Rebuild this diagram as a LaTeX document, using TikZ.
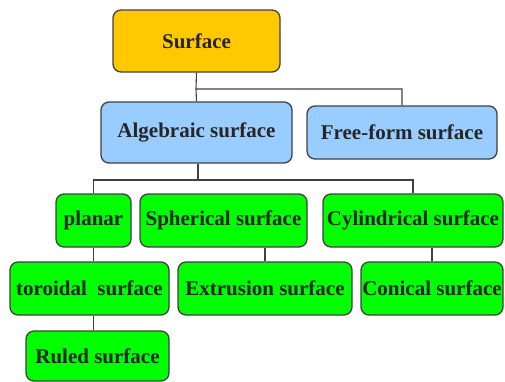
\documentclass[tikz,border=0pt]{standalone}
\usepackage{fontspec}
\setmainfont{Liberation Serif}
\definecolor{topfill}{HTML}{FFC800}
\definecolor{bluefill}{HTML}{99CCFF}
\definecolor{greenfill}{HTML}{00FF00}
\definecolor{edgecol}{HTML}{404040}
\tikzset{
  box/.style={draw=edgecol, line width=1.3pt, rounded corners=8pt, inner sep=0pt,
    font=\rmfamily\bfseries\fontsize{21}{24}\selectfont, text=black!85},
  topbox/.style={box, fill=topfill},
  bluebox/.style={box, fill=bluefill},
  greenbox/.style={box, fill=greenfill},
  conn/.style={draw=edgecol, line width=1.1pt}
}
\newcommand{\boxat}[7]{% style, name, x1, y1, x2, y2, text
  \node[#1, minimum width={(#5-#3)*1pt}, minimum height={(#6-#4)*1pt}] (#2) at ({(#3+#5)/2},{(#4+#6)/2}) {#7};}
\begin{document}
\begin{tikzpicture}[x=1pt,y=-1pt]
\useasboundingbox (0,0) rectangle (505,381);
\boxat{topbox}{surf}{113}{10}{280}{72}{Surface}
\boxat{bluebox}{alg}{101}{102}{292}{163}{Algebraic surface}
\boxat{bluebox}{free}{307}{106}{497}{159}{Free-form surface}
\boxat{greenbox}{planar}{56}{194}{131}{247}{planar}
\boxat{greenbox}{sph}{140}{194}{307}{247}{Spherical surface}
\boxat{greenbox}{cyl}{323}{194}{503}{247}{Cylindrical surface}
\boxat{greenbox}{tor}{10}{262}{169}{315}{toroidal\ \ surface}
\boxat{greenbox}{ext}{178}{262}{352}{315}{Extrusion surface}
\boxat{greenbox}{con}{361}{262}{503}{315}{Conical surface}
\boxat{greenbox}{ruled}{26}{331}{169}{381}{Ruled surface}
\coordinate (b1) at (196,89);
\coordinate (b2) at (198,180);
\draw[conn] (surf.south) -- (b1) -| (free.north);
\draw[conn] (b1) -- (alg.north);
\draw[conn] (alg.south -| b2) -- (b2);
\draw[conn] (planar.north) |- (b2) -| (cyl.north);
\draw[conn] (planar.south) -- (planar.south |- tor.north);
\draw[conn] (tor.south -| planar.south) -- (ruled.north -| planar.south);
\draw[conn] (sph.south -| ext.north) -- (ext.north);
\draw[conn] (cyl.south -| con.north) -- (con.north);
\end{tikzpicture}
\end{document}
